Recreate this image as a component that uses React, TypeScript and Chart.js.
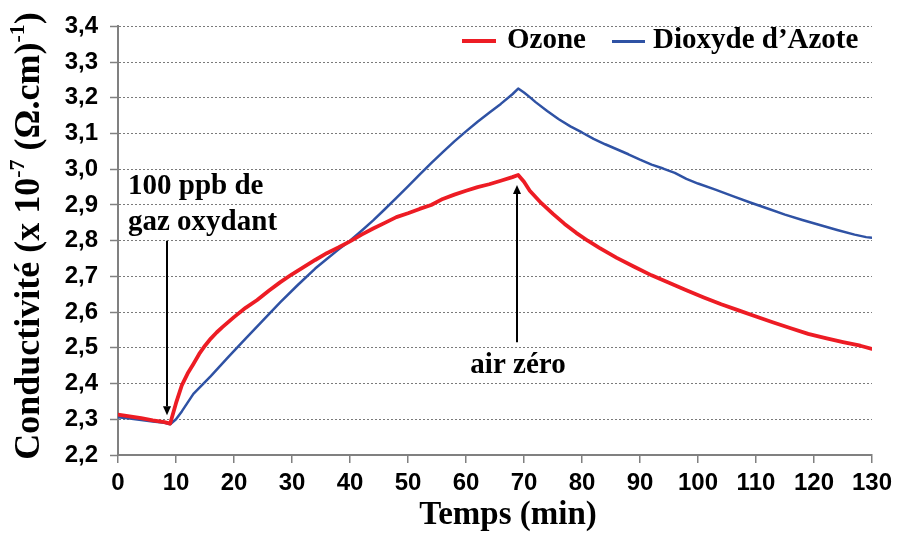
import React, { useEffect, useRef } from 'react';
import { Chart, registerables } from 'chart.js';

Chart.register(...registerables);

// ---- Data (time in minutes, conductivity x 1e-7 (Ω.cm)^-1) ----
const OZONE_TIME = [0, 2, 4, 6, 8, 9, 10, 11, 12, 13, 14, 15, 16, 17, 18, 20, 22, 24, 26, 28, 30, 32, 34, 36, 38, 40, 42, 44, 46, 48, 50, 52, 54, 56, 58, 60, 62, 64, 66, 68, 69, 70, 71, 73, 75, 77, 79, 81, 83, 86, 89, 92, 95, 98, 101, 104, 107, 110, 113, 116, 119, 122, 125, 128, 130];
const OZONE_VALUES = [2.313, 2.308, 2.303, 2.297, 2.292, 2.288, 2.345, 2.395, 2.428, 2.455, 2.483, 2.506, 2.526, 2.543, 2.558, 2.586, 2.612, 2.634, 2.66, 2.684, 2.706, 2.726, 2.746, 2.765, 2.781, 2.798, 2.817, 2.834, 2.85, 2.866, 2.877, 2.889, 2.9, 2.917, 2.929, 2.94, 2.95, 2.958, 2.968, 2.978, 2.984, 2.965, 2.94, 2.905, 2.875, 2.847, 2.822, 2.8, 2.78, 2.752, 2.727, 2.703, 2.682, 2.661, 2.641, 2.622, 2.605, 2.588, 2.571, 2.555, 2.539, 2.527, 2.516, 2.506, 2.497];

const NO2_TIME = [0, 2, 4, 6, 8, 9, 10, 11, 13, 16, 19, 22, 25, 28, 31, 34, 36, 38, 40, 42, 44, 46, 48, 50, 52, 54, 56, 58, 60, 62, 64, 66, 68, 69, 70, 71, 72, 74, 76, 78, 80, 82, 84, 86, 88, 90, 92, 94, 96, 98, 100, 103, 106, 109, 112, 115, 118, 121, 124, 127, 129, 130];
const NO2_VALUES = [2.306, 2.302, 2.298, 2.294, 2.29, 2.286, 2.3, 2.322, 2.371, 2.421, 2.474, 2.526, 2.577, 2.628, 2.676, 2.722, 2.749, 2.775, 2.8, 2.828, 2.857, 2.888, 2.92, 2.952, 2.985, 3.017, 3.048, 3.078, 3.106, 3.133, 3.158, 3.183, 3.21, 3.226, 3.215, 3.202, 3.188, 3.163, 3.14, 3.12, 3.103, 3.085, 3.07, 3.056, 3.042, 3.027, 3.013, 3.002, 2.99, 2.973, 2.96, 2.943, 2.925, 2.907, 2.89, 2.873, 2.858, 2.844, 2.83, 2.817, 2.81, 2.808];

const SERIES_NAMES = ['Ozone', 'Dioxyde d\u2019Azote'];
const SERIES_COLORS = ['#ED1C24', '#2F52A4'];

const X_MIN = 0;
const X_MAX = 130;
const X_STEP = 10;
const Y_MIN = 2.2;
const Y_MAX = 3.4;
const Y_STEP = 0.1;

const X_TITLE = 'Temps (min)';
const Y_TITLE_PARTS = [
  { text: 'Conductivit\u00e9 (x 10', sup: false },
  { text: '-7', sup: true },
  { text: ' (\u03a9.cm)', sup: false },
  { text: '-1', sup: true },
  { text: ')', sup: false },
];

// Annotations (in data coordinates)
const GAS_LABEL = ['100 ppb de', 'gaz oxydant'];
const GAS_ARROW = { x: 8.45, from: 2.8, to: 2.311 };
const AIR_LABEL = 'air z\u00e9ro';
const AIR_ARROW = { x: 68.8, from: 2.516, to: 2.956 };

const SERIF = '"Liberation Serif", "Times New Roman", serif';
const SANS = '"Liberation Sans", Arial, sans-serif';

function drawArrow(ctx: CanvasRenderingContext2D, x: number, y1: number, y2: number) {
  const dir = y2 > y1 ? 1 : -1;
  const headLen = 9;
  const headHalf = 4;
  ctx.beginPath();
  ctx.strokeStyle = '#000';
  ctx.lineWidth = 2;
  ctx.moveTo(x, y1);
  ctx.lineTo(x, y2 - dir * headLen);
  ctx.stroke();
  ctx.beginPath();
  ctx.fillStyle = '#000';
  ctx.moveTo(x, y2);
  ctx.lineTo(x - headHalf, y2 - dir * headLen);
  ctx.lineTo(x + headHalf, y2 - dir * headLen);
  ctx.closePath();
  ctx.fill();
}

const overlayPlugin = {
  id: 'overlay',
  afterDraw(chart: any) {
    const ctx: CanvasRenderingContext2D = chart.ctx;
    const xs = chart.scales.x;
    const ys = chart.scales.y;
    ctx.save();
    ctx.fillStyle = '#000';

    // X title
    ctx.font = `bold 33px ${SERIF}`;
    ctx.textAlign = 'center';
    ctx.textBaseline = 'alphabetic';
    ctx.fillText(X_TITLE, 508, 524);

    // Y title (rotated, with superscripts)
    const mainSize = 36;
    const supSize = 22;
    const mainFont = `bold ${mainSize}px ${SERIF}`;
    const supFont = `bold ${supSize}px ${SERIF}`;
    let total = 0;
    for (const p of Y_TITLE_PARTS) {
      ctx.font = p.sup ? supFont : mainFont;
      total += ctx.measureText(p.text).width;
    }
    ctx.save();
    ctx.translate(39, 236);
    ctx.rotate(-Math.PI / 2);
    ctx.textAlign = 'left';
    let cx = -total / 2;
    for (const p of Y_TITLE_PARTS) {
      ctx.font = p.sup ? supFont : mainFont;
      ctx.fillText(p.text, cx, p.sup ? -mainSize * 0.42 : 0);
      cx += ctx.measureText(p.text).width;
    }
    ctx.restore();

    // Legend
    ctx.font = `bold 29px ${SERIF}`;
    ctx.textAlign = 'left';
    ctx.lineCap = 'butt';
    ctx.strokeStyle = SERIES_COLORS[0];
    ctx.lineWidth = 4;
    ctx.beginPath();
    ctx.moveTo(462, 41);
    ctx.lineTo(496, 41);
    ctx.stroke();
    ctx.fillText(SERIES_NAMES[0], 507, 48);
    ctx.strokeStyle = SERIES_COLORS[1];
    ctx.lineWidth = 3;
    ctx.beginPath();
    ctx.moveTo(612, 41.5);
    ctx.lineTo(645, 41.5);
    ctx.stroke();
    ctx.fillText(SERIES_NAMES[1], 653, 48);

    // Annotations
    ctx.font = `bold 29px ${SERIF}`;
    ctx.textAlign = 'left';
    ctx.fillText(GAS_LABEL[0], 128, 194);
    ctx.fillText(GAS_LABEL[1], 128, 230);
    drawArrow(ctx, Math.round(xs.getPixelForValue(GAS_ARROW.x)), ys.getPixelForValue(GAS_ARROW.from), ys.getPixelForValue(GAS_ARROW.to));

    ctx.textAlign = 'center';
    ctx.fillText(AIR_LABEL, 518, 373);
    drawArrow(ctx, Math.round(xs.getPixelForValue(AIR_ARROW.x)), ys.getPixelForValue(AIR_ARROW.from), ys.getPixelForValue(AIR_ARROW.to));

    ctx.restore();
  },
};

export default function App() {
  const canvasRef = useRef<HTMLCanvasElement | null>(null);

  useEffect(() => {
    document.body.style.margin = '0';
    const canvas = canvasRef.current;
    if (!canvas) return;

    const toPoints = (t: number[], v: number[]) => t.map((x, i) => ({ x, y: v[i] }));

    const chart = new Chart(canvas, {
      type: 'line',
      data: {
        datasets: [
          {
            label: SERIES_NAMES[0],
            data: toPoints(OZONE_TIME, OZONE_VALUES),
            borderColor: SERIES_COLORS[0],
            borderWidth: 3.8,
            pointRadius: 0,
            tension: 0,
            borderJoinStyle: 'round',
            borderCapStyle: 'round',
          },
          {
            label: SERIES_NAMES[1],
            data: toPoints(NO2_TIME, NO2_VALUES),
            borderColor: SERIES_COLORS[1],
            borderWidth: 2.5,
            pointRadius: 0,
            tension: 0,
            borderJoinStyle: 'round',
            borderCapStyle: 'round',
          },
        ],
      },
      options: {
        animation: false,
        responsive: false,
        devicePixelRatio: 1,
        layout: { padding: { left: 0, top: 22, right: 25, bottom: 0 } },
        plugins: {
          legend: { display: false },
          tooltip: { enabled: false },
          title: { display: false },
        },
        scales: {
          x: {
            type: 'linear',
            min: X_MIN,
            max: X_MAX,
            ticks: {
              stepSize: X_STEP,
              color: '#000',
              font: { family: SANS, size: 24, weight: 'bold' },
              padding: 6,
              maxRotation: 0,
              autoSkip: false,
            },
            grid: {
              drawOnChartArea: false,
              drawTicks: true,
              tickLength: 8,
              color: '#808080',
              lineWidth: 1.5,
            },
            border: { display: true, color: '#808080', width: 2 },
            afterFit: (scale: any) => {
              scale.height = 79;
            },
          },
          y: {
            type: 'linear',
            min: Y_MIN,
            max: Y_MAX,
            ticks: {
              stepSize: Y_STEP,
              color: '#000',
              font: { family: SANS, size: 24, weight: 'bold' },
              padding: 12,
              callback: (v: any) => Number(v).toFixed(1).replace('.', ','),
            },
            grid: {
              drawOnChartArea: true,
              drawTicks: true,
              tickLength: 8,
              color: '#7a7a7a',
              lineWidth: 1,
              tickColor: '#808080',
              tickWidth: 1.5,
            },
            border: { display: true, color: '#808080', width: 2, dash: [2, 2] },
            afterFit: (scale: any) => {
              scale.width = 118;
            },
          },
        },
      },
      plugins: [overlayPlugin],
    } as any);

    return () => chart.destroy();
  }, []);

  return (
    <div style={{ width: 898, height: 534, background: '#fff' }}>
      <canvas ref={canvasRef} width={898} height={534} style={{ display: 'block' }} />
    </div>
  );
}
